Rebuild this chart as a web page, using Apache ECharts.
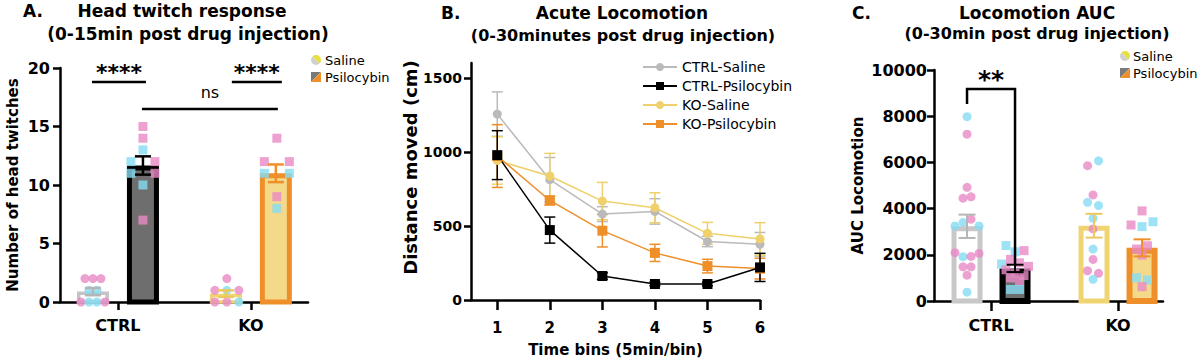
<!DOCTYPE html>
<html><head><meta charset="utf-8">
<script src="https://cdn.jsdelivr.net/npm/echarts@6/dist/echarts.min.js"></script>
<style>html,body{margin:0;padding:0;background:#fff}#c{width:1200px;height:362px}</style>
</head><body><div id="c"></div>
<script>
// ================= DATA =================
// Panel A – head twitches per animal (F = female / pink, M = male / blue)
const aGroups = ['CTRL', 'KO'];
const aTicks = [0, 5, 10, 15, 20];
const aCtrlSaline = [2, 2, 2, 1, 1, 0, 0, 0, 0];
const aCtrlSalineSex = ['F', 'F', 'F', 'M', 'M', 'F', 'M', 'M', 'F'];
const aCtrlPsilo = [15, 14, 13, 12, 12, 11, 11, 10, 7];
const aCtrlPsiloSex = ['F', 'F', 'M', 'M', 'F', 'M', 'F', 'M', 'F'];
const aKoSaline = [2, 1, 1, 1, 0, 0, 0];
const aKoSalineSex = ['F', 'F', 'M', 'F', 'F', 'F', 'M'];
const aKoPsilo = [14, 12, 12, 11, 11, 9, 8];
const aKoPsiloSex = ['F', 'F', 'F', 'M', 'M', 'F', 'M'];
const aSigLabels = ['****', '****', 'ns'];
const aSigLevels = [18.8, 18.8, 16.5];

// Panel B – mean ± SEM distance per 5-min bin
const bBins = [1, 2, 3, 4, 5, 6];
const bTicks = [0, 500, 1000, 1500];
const bCtrlSalineMean = [1255, 812, 580, 598, 395, 376];
const bCtrlSalineSem  = [150, 150, 50, 86, 35, 80];
const bCtrlPsiloMean  = [978, 472, 162, 108, 108, 220];
const bCtrlPsiloSem   = [165, 88, 22, 12, 12, 95];
const bKoSalineMean   = [942, 837, 668, 623, 450, 412];
const bKoSalineSem    = [160, 153, 126, 101, 74, 110];
const bKoPsiloMean    = [972, 672, 468, 318, 229, 212];
const bKoPsiloSem     = [212, 30, 110, 58, 46, 70];

// Panel C – locomotion AUC per animal
const cGroups = ['CTRL', 'KO'];
const cTicks = [0, 2000, 4000, 6000, 8000, 10000];
const cCtrlSaline = [7980, 7220, 4920, 4450, 4510, 3250, 3400, 3540, 3250, 2090, 1920, 1930, 2060, 1480, 1480, 1120, 380];
const cCtrlSalineSex = ['M', 'F', 'F', 'F', 'F', 'M', 'M', 'F', 'M', 'F', 'M', 'F', 'F', 'F', 'F', 'F', 'M'];
const cCtrlPsilo = [2400, 2130, 2180, 1600, 1800, 1650, 1500, 1350, 1200, 1100, 1000, 850, 500, 500];
const cCtrlPsiloSex = ['M', 'M', 'F', 'M', 'F', 'F', 'F', 'F', 'F', 'F', 'F', 'F', 'M', 'M'];
const cKoSaline = [5860, 6070, 4590, 4270, 4130, 3580, 3120, 2250, 1800, 1310, 1200, 940];
const cKoSalineSex = ['F', 'M', 'F', 'M', 'M', 'M', 'F', 'M', 'F', 'F', 'F', 'M'];
const cKoPsilo = [3900, 3290, 3220, 3430, 2250, 2390, 1990, 1010, 910, 620];
const cKoPsiloSex = ['F', 'F', 'M', 'M', 'F', 'F', 'F', 'M', 'M', 'F'];
const cSigLabel = '**';

// ================= HELPERS =================
const FONT = '"DejaVu Sans", sans-serif';
const PINK = '#e88ac6', BLUE = '#86dcf3';
const GREY = '#bababa', YEL = '#efd06a', ORA = '#ef8f2a';
const H = 362;
const gA = {left: 60, top: 68, right: 892, bottom: 60};
const gB = {left: 471, top: 63, right: 440, bottom: 62};
const gC = {left: 934, top: 70, right: 37, bottom: 61};
const pxA = (H - gA.top - gA.bottom) / 20;
const pxC = (H - gC.top - gC.bottom) / 10000;

function mean(a) { return a.reduce((s, v) => s + v, 0) / a.length; }
function sem(a) {
  const m = mean(a);
  const v = a.reduce((s, x) => s + (x - m) * (x - m), 0) / (a.length - 1);
  return Math.sqrt(v / a.length);
}

// simple row-based beeswarm: points within 7px vertically share a row, spread symmetrically
function swarm(values, sexes, xCat, groupOff, spacing, pxPerUnit, symbol, size) {
  const idx = values.map((v, i) => i).sort((a, b) => values[b] - values[a] || a - b);
  const rows = []; let cur = null;
  idx.forEach(i => {
    const y = values[i] * pxPerUnit;
    if (cur && Math.abs(cur.anchor - y) < 7) cur.items.push(i);
    else { cur = {anchor: y, items: [i]}; rows.push(cur); }
  });
  const out = [];
  rows.forEach(r => {
    r.items.sort((a, b) => a - b);
    const n = r.items.length;
    r.items.forEach((i, k) => {
      const dx = groupOff + (k - (n - 1) / 2) * spacing;
      out.push({value: [xCat, values[i]], symbol: symbol, symbolSize: size,
        symbolOffset: [dx, 0], itemStyle: {color: sexes[i] === 'F' ? PINK : BLUE}});
    });
  });
  return out;
}

function barSeries(axis, items, styles, width, off) {
  return {type: 'custom', xAxisIndex: axis, yAxisIndex: axis, z: 1, silent: true, data: items,
    renderItem(params, api) {
      const st = styles[params.dataIndex];
      const x = api.value(0), m = api.value(1), side = api.value(2);
      const base = api.coord([x, 0]), top = api.coord([x, m]);
      const cx = base[0] + side * off, lw = st.lw;
      return {type: 'rect', shape: {x: cx - width / 2 + lw / 2, y: top[1] + lw / 2,
          width: width - lw, height: Math.max(0, base[1] - top[1] - lw / 2)},
        style: {fill: st.fill, stroke: st.stroke, lineWidth: lw}};
    }};
}

function errSeries(axis, items, colors, off, cap, lw, z) {
  return {type: 'custom', xAxisIndex: axis, yAxisIndex: axis, z: z, silent: true, data: items,
    renderItem(params, api) {
      const c = colors[params.dataIndex % colors.length];
      const x = api.value(0), m = api.value(1), s = api.value(2), side = api.value(3);
      const t = api.coord([x, m + s]), b = api.coord([x, m - s]);
      const cx = t[0] + side * off;
      const st = {stroke: c, lineWidth: lw};
      return {type: 'group', children: [
        {type: 'line', shape: {x1: cx, y1: t[1], x2: cx, y2: b[1]}, style: st},
        {type: 'line', shape: {x1: cx - cap / 2, y1: t[1], x2: cx + cap / 2, y2: t[1]}, style: st},
        {type: 'line', shape: {x1: cx - cap / 2, y1: b[1], x2: cx + cap / 2, y2: b[1]}, style: st}
      ]};
    }};
}

function axisX(grid, min, max, ticks, labels, tickLen, margin, fs, name) {
  return {gridIndex: grid, type: 'value', min: min, max: max,
    axisLine: {onZero: false, lineStyle: {color: '#000', width: 2.5}},
    axisTick: {customValues: ticks, length: tickLen, lineStyle: {color: '#000', width: 2.5}},
    axisLabel: {customValues: ticks, formatter: labels, margin: margin, color: '#000',
      fontFamily: FONT, fontWeight: 'bold', fontSize: fs},
    splitLine: {show: false},
    name: name || '', nameLocation: 'middle', nameGap: 42,
    nameTextStyle: {color: '#000', fontFamily: FONT, fontWeight: 'bold', fontSize: 15}};
}
function axisY(grid, ticks, max, interval, name, nameGap, nameFs, fs, margin, pad) {
  return {gridIndex: grid, type: 'value', min: 0, max: max, interval: interval,
    axisLine: {show: true, onZero: false, lineStyle: {color: '#000', width: 2.5}},
    axisTick: {show: true, customValues: ticks, length: 7, lineStyle: {color: '#000', width: 2.5}},
    axisLabel: {customValues: ticks, formatter: v => String(v), margin: margin, color: '#000',
      fontFamily: FONT, fontWeight: 'bold', fontSize: fs},
    splitLine: {show: false},
    name: name, nameLocation: 'middle', nameGap: nameGap,
    nameTextStyle: {color: '#000', fontFamily: FONT, fontWeight: 'bold', fontSize: nameFs, padding: pad || 0}};
}

// ================= SERIES =================
const barStylesA = [
  {fill: '#ffffff', stroke: '#c4c4c4', lw: 3.5}, {fill: '#6e6e6e', stroke: '#000000', lw: 5},
  {fill: '#ffffff', stroke: '#f1d472', lw: 3.5}, {fill: '#f4d98a', stroke: ORA, lw: 5}];
const barStylesC = [
  {fill: '#ffffff', stroke: '#c8c8c8', lw: 5}, {fill: '#6e6e6e', stroke: '#000000', lw: 6},
  {fill: '#ffffff', stroke: '#f1d472', lw: 5}, {fill: '#f4d98a', stroke: ORA, lw: 6}];
const errColors = ['#b5b5b5', '#000000', '#ecc95e', ORA];

const aSets = [aCtrlSaline, aCtrlPsilo, aKoSaline, aKoPsilo];
const cSets = [cCtrlSaline, cCtrlPsilo, cKoSaline, cKoPsilo];
const cats = [1, 1, 2, 2], sides = [-1, 1, -1, 1];
const aBarItems = aSets.map((d, i) => [cats[i], mean(d), sides[i]]);
const aErrItems = aSets.map((d, i) => [cats[i], mean(d), sem(d), sides[i]]);
const cBarItems = cSets.map((d, i) => [cats[i], mean(d), sides[i]]);
const cErrItems = cSets.map((d, i) => [cats[i], mean(d), sem(d), sides[i]]);

const scatterA = [].concat(
  swarm(aCtrlSaline, aCtrlSalineSex, 1, -25, 8, pxA, 'circle', 9),
  swarm(aCtrlPsilo, aCtrlPsiloSex, 1, 25, 24, pxA, 'rect', 9),
  swarm(aKoSaline, aKoSalineSex, 2, -24, 12, pxA, 'circle', 9),
  swarm(aKoPsilo, aKoPsiloSex, 2, 26, 25, pxA, 'rect', 9));
const scatterC = [].concat(
  swarm(cCtrlSaline, cCtrlSalineSex, 1, -24, 8, pxC, 'circle', 9),
  swarm(cCtrlPsilo, cCtrlPsiloSex, 1, 24, 9, pxC, 'rect', 9),
  swarm(cKoSaline, cKoSalineSex, 2, -25, 11, pxC, 'circle', 9),
  swarm(cKoPsilo, cKoPsiloSex, 2, 24, 11, pxC, 'rect', 9));

// significance annotations (A)
const aSigSpans = [[1, -26, 1, 28], [2, -19, 2, 31], [1, 24, 2, 27]];
const sigA = {type: 'custom', xAxisIndex: 0, yAxisIndex: 0, z: 4, silent: true,
  data: aSigLevels.map((y, i) => [i, y]),
  renderItem(params, api) {
    const i = params.dataIndex, sp = aSigSpans[i], y = api.value(1);
    const p1 = api.coord([sp[0], y]), p2 = api.coord([sp[2], y]);
    const x1 = p1[0] + sp[1], x2 = p2[0] + sp[3];
    const isNs = aSigLabels[i] === 'ns';
    return {type: 'group', children: [
      {type: 'line', shape: {x1: x1, y1: p1[1], x2: x2, y2: p1[1]}, style: {stroke: '#000', lineWidth: 2.5}},
      {type: 'text', style: {text: aSigLabels[i], x: (x1 + x2) / 2, y: p1[1] - (isNs ? 16 : 10),
        align: 'center', verticalAlign: 'middle', fill: '#000', fontFamily: FONT,
        fontWeight: isNs ? 'normal' : 'bold', fontSize: isNs ? 16 : 22}}
    ]};
  }};
// significance bracket (C)
const cSigLevels = [9180, 8530, 1560];
const sigC = {type: 'custom', xAxisIndex: 2, yAxisIndex: 2, z: 4, silent: true,
  data: [[1, cSigLevels[0]]],
  renderItem(params, api) {
    const t = api.coord([1, cSigLevels[0]]), l = api.coord([1, cSigLevels[1]]), r = api.coord([1, cSigLevels[2]]);
    const lx = t[0] - 24, rx = t[0] + 24;
    return {type: 'group', children: [
      {type: 'polyline', shape: {points: [[lx, l[1]], [lx, t[1]], [rx, t[1]], [rx, r[1]]]},
        style: {stroke: '#000', lineWidth: 2.5, fill: null}},
      {type: 'text', style: {text: cSigLabel, x: (lx + rx) / 2, y: t[1] - 9, align: 'center',
        verticalAlign: 'middle', fill: '#000', fontFamily: FONT, fontWeight: 'bold', fontSize: 25}}
    ]};
  }};

// Panel B lines
const bDefs = [
  {name: 'CTRL-Saline', m: bCtrlSalineMean, s: bCtrlSalineSem, c: GREY, sym: 'circle', size: 9},
  {name: 'KO-Saline', m: bKoSalineMean, s: bKoSalineSem, c: YEL, sym: 'circle', size: 9},
  {name: 'KO-Psilocybin', m: bKoPsiloMean, s: bKoPsiloSem, c: ORA, sym: 'rect', size: 10},
  {name: 'CTRL-Psilocybin', m: bCtrlPsiloMean, s: bCtrlPsiloSem, c: '#000000', sym: 'rect', size: 10}];
const bErr = bDefs.map(d => errSeries(1, bBins.map((b, i) => [b, d.m[i], d.s[i], 0]), [d.c], 0, 11, 1.5, 2));
const bLines = bDefs.map(d => ({type: 'line', name: d.name, xAxisIndex: 1, yAxisIndex: 1, z: 3,
  data: bBins.map((b, i) => [b, d.m[i]]), symbol: d.sym, symbolSize: d.size, showAllSymbol: true,
  lineStyle: {color: d.c, width: 1.5}, itemStyle: {color: d.c}, silent: true}));

// ================= TITLES / LEGENDS (graphic) =================
const titleDefs = [
  ['A.', 23, 11, 17, 'left'], ['Head twitch response', 182, 11, 17, 'center'],
  ['(0-15min post drug injection)', 188, 34, 17, 'center'],
  ['B.', 441, 13, 17, 'left'], ['Acute Locomotion', 622, 13, 17, 'center'],
  ['(0-30minutes post drug injection)', 623, 35, 16, 'center'],
  ['C.', 852, 13, 17, 'left'], ['Locomotion AUC', 1037, 13, 17, 'center'],
  ['(0-30min post drug injection)', 1037, 33, 16, 'center']];
const graphics = titleDefs.map(t => ({type: 'text', x: t[1], y: t[2], silent: true,
  style: {text: t[0], align: t[4], verticalAlign: 'middle', fill: '#000', fontFamily: FONT, fontWeight: 'bold', fontSize: t[3]}}));

function splitLegend(cx, y1, y2, tx) {
  const r = 5, s = 10;
  return [
    {type: 'sector', shape: {cx: cx, cy: y1, r: r, startAngle: Math.PI / 4, endAngle: Math.PI * 5 / 4}, style: {fill: '#d0d0d0'}},
    {type: 'sector', shape: {cx: cx, cy: y1, r: r, startAngle: -Math.PI * 3 / 4, endAngle: Math.PI / 4}, style: {fill: '#e7df3e'}},
    {type: 'polygon', shape: {points: [[cx - s / 2, y2 - s / 2], [cx + s / 2, y2 - s / 2], [cx - s / 2, y2 + s / 2]]}, style: {fill: '#7a7a7a'}},
    {type: 'polygon', shape: {points: [[cx + s / 2, y2 - s / 2], [cx + s / 2, y2 + s / 2], [cx - s / 2, y2 + s / 2]]}, style: {fill: ORA}},
    {type: 'text', x: tx, y: y1, style: {text: 'Saline', align: 'left', verticalAlign: 'middle', fill: '#000', fontFamily: FONT, fontSize: 13}},
    {type: 'text', x: tx, y: y2, style: {text: 'Psilocybin', align: 'left', verticalAlign: 'middle', fill: '#000', fontFamily: FONT, fontSize: 13}}
  ];
}
const allGraphics = graphics.concat(splitLegend(316, 60, 77, 325), splitLegend(1125, 56, 73, 1133));

// ================= CHART =================
const chart = echarts.init(document.getElementById('c'), null, {renderer: 'svg', width: 1200, height: 362});
chart.setOption({
  animation: false,
  backgroundColor: '#ffffff',
  grid: [gA, gB, gC],
  xAxis: [
    axisX(0, 0.564, 2.43, [1, 2], v => aGroups[Math.round(v) - 1], 8, 15, 16),
    axisX(1, 0.5, 6, bBins, v => String(v), 10, 20, 15, 'Time bins (5min/bin)'),
    axisX(2, 0.551, 2.354, [1, 2], v => cGroups[Math.round(v) - 1], 10, 16, 16)],
  yAxis: [
    axisY(0, aTicks, 20, 5, 'Number of head twitches', 40, 15, 16, 10),
    axisY(1, bTicks, 1600, 500, 'Distance moved (cm)', 52, 18, 14, 9, [0, 0, 0, 28]),
    axisY(2, cTicks, 10000, 2000, 'AUC Locomotion', 69, 15, 16, 7)],
  legend: {data: ['CTRL-Saline', 'CTRL-Psilocybin', 'KO-Saline', 'KO-Psilocybin'], orient: 'vertical',
    left: 637, top: 55, itemWidth: 34, itemHeight: 10, itemGap: 5, selectedMode: false,
    textStyle: {fontFamily: FONT, fontSize: 14, color: '#000'}},
  graphic: allGraphics,
  series: [
    barSeries(0, aBarItems, barStylesA, 32, 25),
    {type: 'scatter', xAxisIndex: 0, yAxisIndex: 0, z: 2, data: scatterA, silent: true},
    errSeries(0, aErrItems, errColors, 25, 16, 2.5, 3),
    sigA,
    ...bErr, ...bLines,
    barSeries(2, cBarItems, barStylesC, 31, 24),
    {type: 'scatter', xAxisIndex: 2, yAxisIndex: 2, z: 2, data: scatterC, silent: true},
    errSeries(2, cErrItems, errColors, 24, 17, 2, 3),
    sigC
  ]
});
</script>
</body></html>
